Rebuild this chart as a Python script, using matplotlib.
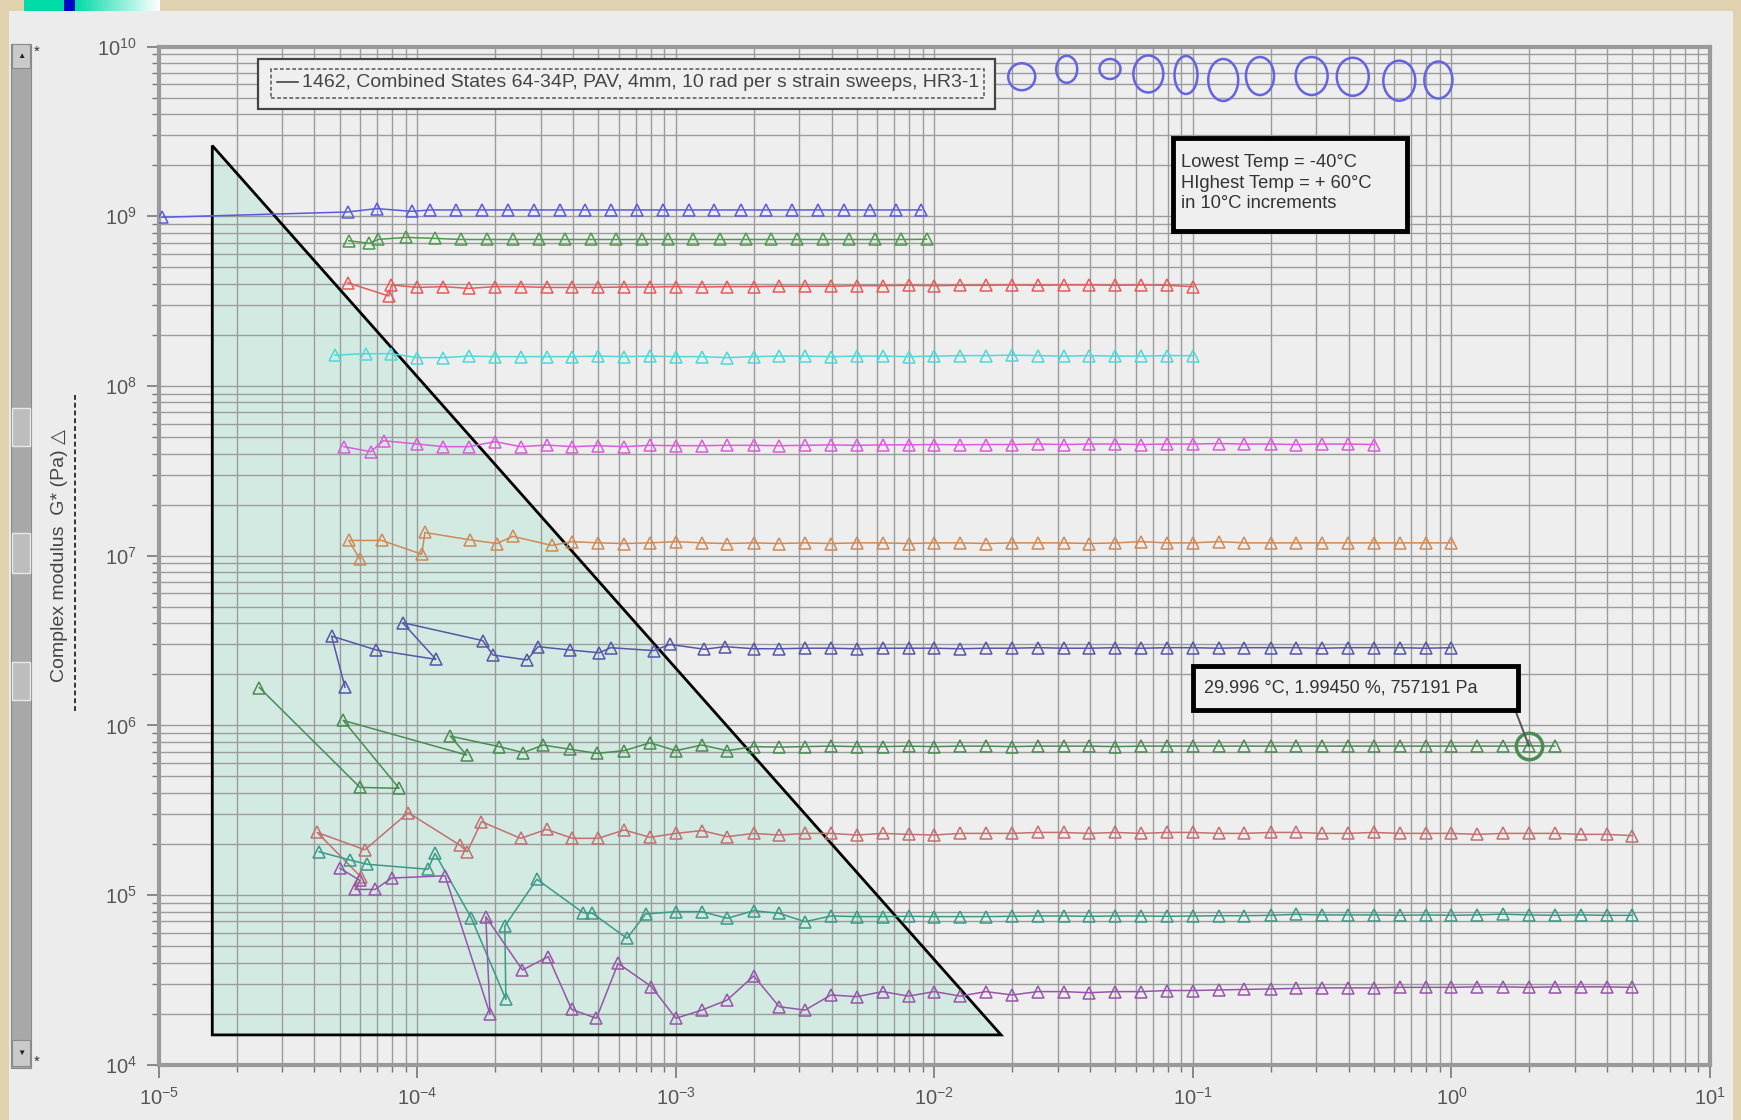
import matplotlib
matplotlib.use("Agg")
import matplotlib.pyplot as plt
import numpy as np
from matplotlib.patches import Rectangle, Ellipse, Polygon
from matplotlib.lines import Line2D
from matplotlib.ticker import LogLocator, NullFormatter

plt.rcParams['font.family'] = ['Liberation Sans', 'DejaVu Sans']
plt.rcParams['mathtext.fontset'] = 'custom'
plt.rcParams['mathtext.rm'] = 'Liberation Sans'
plt.rcParams['mathtext.it'] = 'Liberation Sans:italic'

# nominal strain steps of the sweeps (%), 10 per decade
strain_steps = [1.00e-4, 1.26e-4, 1.58e-4, 2.00e-4, 2.51e-4, 3.16e-4, 3.98e-4, 5.01e-4, 6.31e-4, 7.94e-4,
                1.00e-3, 1.26e-3, 1.58e-3, 2.00e-3, 2.51e-3, 3.16e-3, 3.98e-3, 5.01e-3, 6.31e-3, 7.94e-3,
                1.00e-2, 1.26e-2, 1.58e-2, 2.00e-2, 2.51e-2, 3.16e-2, 3.98e-2, 5.01e-2, 6.31e-2, 7.94e-2,
                1.00e-1, 1.26e-1, 1.58e-1, 2.00e-1, 2.51e-1, 3.16e-1, 3.98e-1, 5.01e-1, 6.31e-1, 7.94e-1,
                1.00, 1.26, 1.58, 1.9945, 2.51, 3.16, 3.98, 5.01]

# -40 C
x_m40 = [1.03e-5, 5.37e-5, 6.97e-5, 9.50e-5, 1.12e-4, 1.41e-4, 1.78e-4, 2.24e-4, 2.82e-4, 3.55e-4,
         4.47e-4, 5.62e-4, 7.08e-4, 8.91e-4, 1.12e-3, 1.41e-3, 1.78e-3, 2.24e-3, 2.82e-3, 3.55e-3,
         4.47e-3, 5.62e-3, 7.08e-3, 8.91e-3]
g_m40 = [9.87e8, 1.06e9, 1.11e9, 1.07e9, 1.09e9, 1.09e9, 1.09e9, 1.09e9, 1.09e9, 1.09e9,
         1.09e9, 1.09e9, 1.09e9, 1.09e9, 1.09e9, 1.09e9, 1.09e9, 1.09e9, 1.09e9, 1.09e9,
         1.09e9, 1.09e9, 1.09e9, 1.09e9]
# -30 C
x_m30 = [5.43e-5, 6.51e-5, 7.07e-5, 9.08e-5, 1.17e-4, 1.48e-4, 1.86e-4, 2.34e-4, 2.95e-4, 3.72e-4,
         4.68e-4, 5.89e-4, 7.41e-4, 9.33e-4, 1.17e-3, 1.48e-3, 1.86e-3, 2.34e-3, 2.95e-3, 3.72e-3,
         4.68e-3, 5.89e-3, 7.41e-3, 9.33e-3]
g_m30 = [7.18e8, 6.93e8, 7.31e8, 7.51e8, 7.41e8, 7.30e8, 7.30e8, 7.30e8, 7.30e8, 7.30e8,
         7.30e8, 7.30e8, 7.30e8, 7.30e8, 7.30e8, 7.30e8, 7.30e8, 7.30e8, 7.30e8, 7.30e8,
         7.30e8, 7.30e8, 7.30e8, 7.32e8]
# -20 C
x_m20 = [5.37e-5, 7.76e-5, 7.94e-5] + strain_steps[0:31]
g_m20 = [4.06e8, 3.39e8, 3.94e8,
         3.81e8, 3.85e8, 3.76e8, 3.85e8, 3.85e8, 3.81e8, 3.81e8, 3.81e8, 3.83e8, 3.83e8,
         3.85e8, 3.83e8, 3.85e8, 3.85e8, 3.87e8, 3.87e8, 3.87e8, 3.90e8, 3.90e8, 3.92e8,
         3.90e8, 3.92e8, 3.92e8, 3.94e8, 3.92e8, 3.94e8, 3.94e8, 3.92e8, 3.94e8, 3.92e8, 3.85e8]
# -10 C
x_m10 = [4.80e-5, 6.31e-5, 7.94e-5] + strain_steps[0:31]
g_m10 = [1.52e8, 1.55e8, 1.55e8,
         1.47e8, 1.47e8, 1.50e8, 1.49e8, 1.49e8, 1.49e8, 1.49e8, 1.50e8, 1.49e8, 1.50e8,
         1.49e8, 1.49e8, 1.47e8, 1.49e8, 1.50e8, 1.50e8, 1.49e8, 1.50e8, 1.50e8, 1.49e8,
         1.50e8, 1.51e8, 1.51e8, 1.52e8, 1.51e8, 1.50e8, 1.51e8, 1.50e8, 1.50e8, 1.51e8, 1.51e8]
# 0 C
x_0 = [5.20e-5, 6.60e-5, 7.40e-5] + strain_steps[0:38]
g_0 = [4.39e7, 4.10e7, 4.76e7,
       4.55e7, 4.39e7, 4.39e7, 4.70e7, 4.39e7, 4.49e7, 4.39e7, 4.45e7, 4.39e7, 4.47e7,
       4.45e7, 4.45e7, 4.47e7, 4.47e7, 4.45e7, 4.47e7, 4.50e7, 4.47e7, 4.50e7, 4.50e7,
       4.52e7, 4.50e7, 4.52e7, 4.52e7, 4.55e7, 4.52e7, 4.55e7, 4.55e7, 4.52e7, 4.55e7,
       4.55e7, 4.58e7, 4.55e7, 4.55e7, 4.52e7, 4.55e7, 4.55e7, 4.52e7]
# 10 C
x_10 = [6.00e-5, 5.43e-5, 7.29e-5, 1.04e-4, 1.07e-4, 1.60e-4, 2.03e-4, 2.34e-4, 3.31e-4] + strain_steps[6:41]
g_10 = [9.52e6, 1.23e7, 1.23e7, 1.02e7, 1.37e7, 1.24e7, 1.18e7, 1.30e7, 1.15e7,
        1.21e7, 1.19e7, 1.18e7, 1.19e7, 1.21e7, 1.19e7, 1.18e7, 1.19e7, 1.18e7, 1.19e7,
        1.18e7, 1.19e7, 1.19e7, 1.18e7, 1.19e7, 1.19e7, 1.18e7, 1.19e7, 1.19e7, 1.19e7,
        1.18e7, 1.19e7, 1.21e7, 1.19e7, 1.19e7, 1.21e7, 1.19e7, 1.19e7, 1.19e7, 1.19e7,
        1.19e7, 1.19e7, 1.19e7, 1.19e7, 1.19e7]
# 20 C
x_20 = [5.25e-5, 4.66e-5, 6.95e-5, 1.18e-4, 8.77e-5, 1.79e-4, 1.96e-4, 2.66e-4, 2.93e-4, 3.91e-4,
        5.05e-4, 5.60e-4, 8.20e-4, 9.50e-4, 1.29e-3, 1.55e-3] + strain_steps[13:41]
g_20 = [1.68e6, 3.36e6, 2.78e6, 2.45e6, 4.03e6, 3.16e6, 2.60e6, 2.43e6, 2.91e6, 2.78e6,
        2.68e6, 2.87e6, 2.76e6, 3.00e6, 2.81e6, 2.91e6,
        2.83e6, 2.83e6, 2.85e6, 2.85e6, 2.83e6, 2.85e6, 2.85e6, 2.85e6, 2.83e6, 2.85e6,
        2.85e6, 2.87e6, 2.85e6, 2.85e6, 2.87e6, 2.85e6, 2.87e6, 2.87e6, 2.85e6, 2.87e6,
        2.87e6, 2.87e6, 2.85e6, 2.87e6, 2.87e6, 2.87e6, 2.85e6, 2.87e6]
# 30 C
x_30 = [2.45e-5, 6.00e-5, 8.50e-5, 5.17e-5, 1.55e-4, 1.34e-4, 2.07e-4, 2.57e-4, 3.06e-4, 3.91e-4,
        4.95e-4] + strain_steps[8:45]
g_30 = [1.67e6, 4.31e5, 4.26e5, 1.07e6, 6.69e5, 8.65e5, 7.50e5, 6.91e5, 7.66e5, 7.23e5, 6.84e5,
        7.10e5, 7.90e5, 7.10e5, 7.66e5, 7.10e5, 7.50e5, 7.45e5, 7.50e5, 7.55e5, 7.50e5,
        7.50e5, 7.55e5, 7.50e5, 7.55e5, 7.55e5, 7.50e5, 7.55e5, 7.55e5, 7.55e5, 7.50e5,
        7.55e5, 7.55e5, 7.55e5, 7.55e5, 7.55e5, 7.55e5, 7.55e5, 7.55e5, 7.55e5, 7.55e5,
        7.55e5, 7.55e5, 7.55e5, 7.55e5, 7.55e5, 757191, 7.55e5]
# 40 C
x_40 = [6.08e-5, 4.10e-5, 6.27e-5, 9.22e-5, 1.46e-4, 1.56e-4, 1.77e-4] + strain_steps[4:48]
g_40 = [1.27e5, 2.34e5, 1.85e5, 3.06e5, 1.97e5, 1.80e5, 2.71e5,
        2.16e5, 2.44e5, 2.16e5, 2.16e5, 2.42e5, 2.19e5, 2.31e5, 2.40e5, 2.21e5, 2.31e5,
        2.26e5, 2.31e5, 2.31e5, 2.26e5, 2.31e5, 2.28e5, 2.26e5, 2.31e5, 2.31e5, 2.31e5,
        2.34e5, 2.34e5, 2.31e5, 2.34e5, 2.31e5, 2.34e5, 2.34e5, 2.31e5, 2.31e5, 2.34e5,
        2.34e5, 2.31e5, 2.31e5, 2.34e5, 2.31e5, 2.31e5, 2.31e5, 2.28e5, 2.31e5, 2.31e5,
        2.31e5, 2.28e5, 2.28e5, 2.24e5]
# 50 C
x_50 = [4.17e-5, 5.48e-5, 6.40e-5, 1.10e-4, 1.17e-4, 1.62e-4, 2.20e-4, 2.18e-4, 2.90e-4, 4.37e-4,
        4.75e-4, 6.47e-4, 7.64e-4] + strain_steps[10:48]
g_50 = [1.80e5, 1.61e5, 1.52e5, 1.42e5, 1.76e5, 7.30e4, 2.43e4, 6.58e4, 1.24e5, 7.89e4,
        7.82e4, 5.56e4, 7.74e4,
        7.99e4, 7.99e4, 7.30e4, 8.09e4, 7.81e4, 6.97e4, 7.53e4, 7.47e4, 7.47e4, 7.50e4,
        7.47e4, 7.47e4, 7.47e4, 7.50e4, 7.53e4, 7.53e4, 7.50e4, 7.53e4, 7.53e4, 7.50e4,
        7.53e4, 7.56e4, 7.56e4, 7.60e4, 7.70e4, 7.64e4, 7.64e4, 7.64e4, 7.60e4, 7.64e4,
        7.60e4, 7.64e4, 7.72e4, 7.64e4, 7.60e4, 7.64e4, 7.60e4, 7.60e4]
# 60 C
x_60 = [5.02e-5, 6.00e-5, 5.74e-5, 6.86e-5, 7.95e-5, 1.28e-4, 1.91e-4, 1.84e-4, 2.55e-4, 3.21e-4,
        3.95e-4, 4.93e-4, 5.98e-4, 8.04e-4] + strain_steps[10:48]
g_60 = [1.44e5, 1.22e5, 1.08e5, 1.08e5, 1.26e5, 1.30e5, 1.99e4, 7.46e4, 3.62e4, 4.34e4,
        2.12e4, 1.88e4, 3.96e4, 2.89e4,
        1.88e4, 2.10e4, 2.41e4, 3.34e4, 2.20e4, 2.10e4, 2.58e4, 2.52e4, 2.70e4, 2.54e4,
        2.70e4, 2.54e4, 2.70e4, 2.58e4, 2.70e4, 2.70e4, 2.66e4, 2.70e4, 2.70e4, 2.74e4,
        2.74e4, 2.76e4, 2.78e4, 2.80e4, 2.82e4, 2.84e4, 2.84e4, 2.84e4, 2.86e4, 2.86e4,
        2.86e4, 2.88e4, 2.88e4, 2.86e4, 2.88e4, 2.88e4, 2.88e4, 2.86e4]

series = [(x_m40, g_m40, '#5a5ae0'), (x_m30, g_m30, '#4c9a4c'), (x_m20, g_m20, '#e85a5a'),
          (x_m10, g_m10, '#4fd8d8'), (x_0, g_0, '#dc5cdc'), (x_10, g_10, '#cf8a56'),
          (x_20, g_20, '#5656a8'), (x_30, g_30, '#4a8c52'), (x_40, g_40, '#c27070'),
          (x_50, g_50, '#3a9a88'), (x_60, g_60, '#9656a8')]

# picked point
pick_strain, pick_g = 1.9945, 757191

# -- figure chrome ---------------------------------------------------------
W, H = 1741, 1120
fig = plt.figure(figsize=(W / 100, H / 100), dpi=100, facecolor='#e0d2ae')
fig.patches.append(Rectangle((9 / W, 0), 1724 / W, 1109 / H, transform=fig.transFigure,
                             facecolor='#ececec', edgecolor='none', zorder=-10))
# scrollbar
fig.patches.append(Rectangle((11 / W, 1 - 1068 / H), 20 / W, 1024 / H, transform=fig.transFigure,
                             facecolor='#a8a8a8', edgecolor='#8a8a8a', lw=0.8, zorder=-9))
for y0, y1 in [(44, 68), (1040, 1066)]:
    fig.patches.append(Rectangle((12 / W, 1 - y1 / H), 18 / W, (y1 - y0) / H, transform=fig.transFigure,
                                 facecolor='#cacaca', edgecolor='#8a8a8a', lw=0.8, zorder=-8))
for y0, y1 in [(408, 446), (533, 573), (662, 700)]:
    fig.patches.append(Rectangle((12 / W, 1 - y1 / H), 18 / W, (y1 - y0) / H, transform=fig.transFigure,
                                 facecolor='#bdbdbd', edgecolor='#e8e8e8', lw=1.0, zorder=-8))
fig.text(21 / W, 1 - 56 / H, '▲', fontsize=6, ha='center', va='center', color='#222222')
fig.text(21 / W, 1 - 1053 / H, '▼', fontsize=6, ha='center', va='center', color='#222222')
fig.text(37 / W, 1 - 52 / H, '*', fontsize=11, ha='center', va='center', color='#333333')
fig.text(37 / W, 1 - 1062 / H, '*', fontsize=11, ha='center', va='center', color='#333333')

# coloured strip at the top left
fig.patches.append(Rectangle((24 / W, 1 - 11 / H), 40 / W, 11 / H, transform=fig.transFigure,
                             facecolor='#00dca8', edgecolor='none'))
fig.patches.append(Rectangle((64 / W, 1 - 11 / H), 11 / W, 11 / H, transform=fig.transFigure,
                             facecolor='#0008c8', edgecolor='none'))
strip = fig.add_axes([75 / W, 1 - 11 / H, 85 / W, 11 / H])
fade = np.linspace(0, 1, 128)
rgb = np.stack([fade, 0.86 + 0.14 * fade, 0.66 + 0.34 * fade], axis=-1)[None, :, :]
strip.imshow(rgb, aspect='auto')
strip.axis('off')

# -- main axes -------------------------------------------------------------
ax = fig.add_axes([158.8 / W, 1 - 1064.8 / H, 1551.2 / W, 1018.2 / H])
ax.set_facecolor('#eeeeee')
ax.set_xscale('log')
ax.set_yscale('log')
ax.set_xlim(1e-5, 10)
ax.set_ylim(1e4, 1e10)
ax.set_axisbelow(True)

for axis in (ax.xaxis, ax.yaxis):
    axis.set_major_locator(LogLocator(base=10, numticks=20))
    axis.set_minor_locator(LogLocator(base=10, subs=np.arange(2, 10), numticks=100))
    axis.set_minor_formatter(NullFormatter())
ax.grid(True, which='both', color='#9c9c9c', lw=1.0)
ax.tick_params(which='major', direction='out', length=9, width=1.2, color='#777777',
               labelsize=14.5, labelcolor='#555555', pad=7)
ax.tick_params(which='minor', direction='out', length=5, width=1.0, color='#777777')
for sp in ax.spines.values():
    sp.set_color('#9a9a9a')
    sp.set_linewidth(3)

# shaded low-strain region
tri = [[1.61e-5, 2.61e9], [1.61e-5, 1.50e4], [1.81e-2, 1.50e4]]
ax.add_patch(Polygon(tri, closed=True, facecolor='#d2eae2', edgecolor='none', zorder=0.3))
ax.add_patch(Polygon(tri, closed=True, facecolor='none', edgecolor='black', lw=2.0, zorder=1.5))

for xs, gs, col in series:
    ax.plot(xs, gs, color=col, lw=1.1, marker='^', ms=8, mfc='none', mec=col, mew=1.1, zorder=3)

# highlighted point and its readout
ax.plot([pick_strain], [pick_g], 'o', ms=19, mfc='none', mec='#4a8c52', mew=2.5, zorder=4)
ax.annotate('', xy=(pick_strain, pick_g), xytext=(0.8745, 0.3481), textcoords='axes fraction',
            arrowprops=dict(arrowstyle='-', color='#555555', lw=1.4, shrinkA=0, shrinkB=0), zorder=5)
ax.add_patch(Rectangle((0.6665, 0.3481), 0.2097, 0.0435, transform=ax.transAxes,
                       facecolor='#efefef', edgecolor='black', lw=3.5, zorder=6))
ax.text(0.6736, 0.3705, '29.996 °C, 1.99450 %, 757191 Pa', transform=ax.transAxes,
        fontsize=13.0, color='#333333', va='center', ha='left', zorder=7)

# temperature note
ax.add_patch(Rectangle((0.6536, 0.8189), 0.1510, 0.0916, transform=ax.transAxes,
                       facecolor='#efefef', edgecolor='black', lw=3.5, zorder=6))
ax.text(0.6590, 0.8660, 'Lowest Temp = -40°C\nHIghest Temp = + 60°C\nin 10°C increments',
        transform=ax.transAxes, fontsize=13.2, color='#333333', va='center', ha='left',
        linespacing=1.3, zorder=7)

# legend box
ax.add_patch(Rectangle((0.0637, 0.9389), 0.4755, 0.0491, transform=ax.transAxes,
                       facecolor='#efefef', edgecolor='#444444', lw=1.6, zorder=6))
ax.add_patch(Rectangle((0.0723, 0.9498), 0.4595, 0.0278, transform=ax.transAxes,
                       facecolor='none', edgecolor='#555555', lw=1.1, ls=(0, (2.5, 1.5)), zorder=7))
ax.add_line(Line2D([0.0765, 0.0895], [0.9650, 0.9650], transform=ax.transAxes,
                   color='#444444', lw=1.2, zorder=7))
ax.text(0.0925, 0.9650, '1462, Combined States 64-34P, PAV, 4mm, 10 rad per s strain sweeps, HR3-1',
        transform=ax.transAxes, fontsize=14.0, color='#444444', va='center', ha='left', zorder=7)

# drawn ovals along the top
oval_xy = [(0.5563, 0.9704), (0.5853, 0.9777), (0.6132, 0.9780), (0.6379, 0.9731),
           (0.6622, 0.9721), (0.6862, 0.9672), (0.7099, 0.9711), (0.7432, 0.9711),
           (0.7697, 0.9704), (0.7997, 0.9665), (0.8249, 0.9672)]
oval_wh = [(0.0174, 0.0265), (0.0135, 0.0265), (0.0135, 0.0196), (0.0193, 0.0363),
           (0.0148, 0.0373), (0.0193, 0.0412), (0.0181, 0.0373), (0.0206, 0.0373),
           (0.0206, 0.0373), (0.0206, 0.0393), (0.0181, 0.0363)]
for (cx, cy), (w, h) in zip(oval_xy, oval_wh):
    ax.add_patch(Ellipse((cx, cy), w, h, transform=ax.transAxes, facecolor='none',
                         edgecolor='#6464e0', lw=1.8, zorder=6))

# y label with dashed rule
fig.text(60 / W, 1 - 556 / H, 'Complex modulus  G* (Pa) △', rotation=90, ha='center',
         va='center', fontsize=14, color='#444444')
fig.add_artist(Line2D([75 / W, 75 / W], [1 - 395 / H, 1 - 713 / H], transform=fig.transFigure,
                      color='#333333', lw=1.4, ls=(0, (2.5, 1.5))))

fig.savefig('out.png', dpi=100, facecolor=fig.get_facecolor())
